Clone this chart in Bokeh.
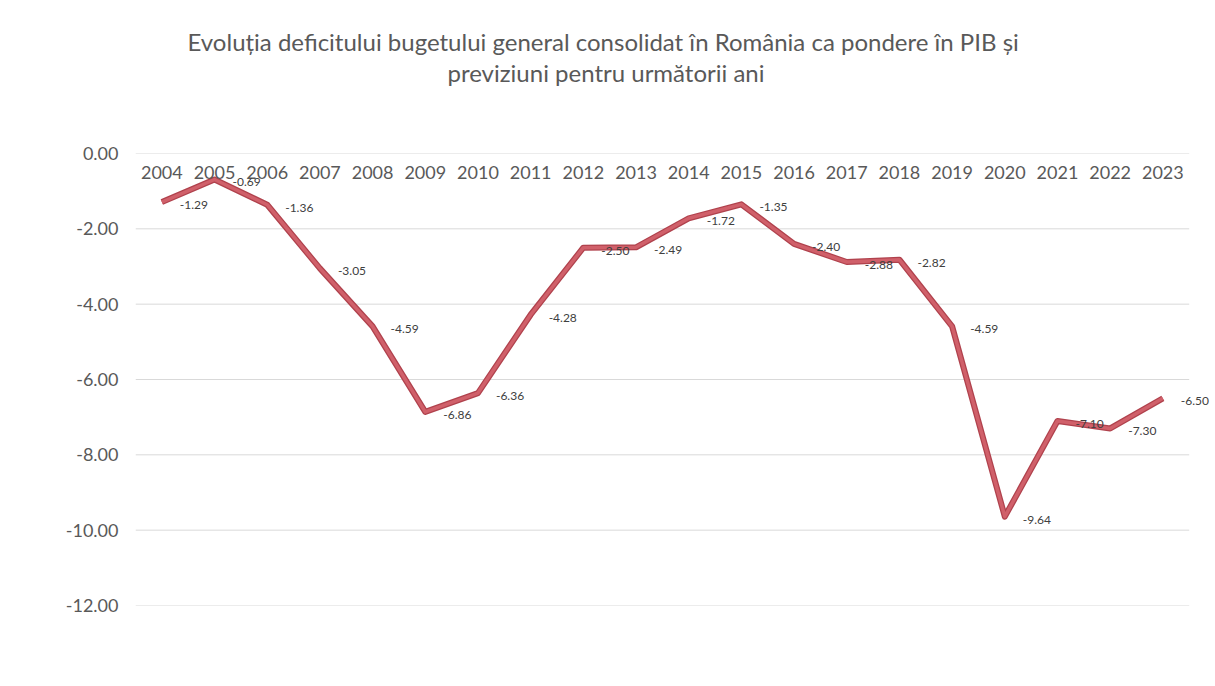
from bokeh.plotting import figure
from bokeh.models import (ColumnDataSource, Range1d, FixedTicker, NumeralTickFormatter,
                          PrintfTickFormatter, LabelSet, Title)
from bokeh.core.properties import value
from bokeh.embed import file_html
from bokeh.resources import INLINE

years = [2004, 2005, 2006, 2007, 2008, 2009, 2010, 2011, 2012, 2013,
         2014, 2015, 2016, 2017, 2018, 2019, 2020, 2021, 2022, 2023]
deficit = [-1.29, -0.69, -1.36, -3.05, -4.59, -6.86, -6.36, -4.28, -2.50, -2.49,
           -1.72, -1.35, -2.40, -2.88, -2.82, -4.59, -9.64, -7.10, -7.30, -6.50]
y_ticks = [0, -2, -4, -6, -8, -10, -12]
title_line1 = "Evoluția deficitului bugetului general consolidat în România ca pondere în PIB și"
title_line2 = "previziuni pentru următorii ani"

src = ColumnDataSource(dict(x=years, y=deficit, lbl=["%.2f" % v for v in deficit]))

FONT = "Lato"
GRAY = "#595959"

W, H = 1214, 684
p = figure(width=W, height=H,
           x_range=Range1d(years[0] - 0.5, years[-1] + 0.98),
           y_range=Range1d(min(y_ticks), max(y_ticks)),
           output_backend="svg", toolbar_location=None,
           min_border_left=135, min_border_right=0, min_border_top=153,
           min_border_bottom=H - 605)

# title (two lines) stacked above the frame, with a spacer closest to the frame
p.add_layout(Title(text=" ", text_font_size="1px", standoff=64), "above")
p.add_layout(Title(text=title_line2, align="left", offset=312, text_font=FONT,
                   text_font_size="24px", text_font_style="normal", text_color=GRAY,
                   standoff=0), "above")
p.add_layout(Title(text=title_line1, align="left", offset=52, text_font=FONT,
                   text_font_size="24px", text_font_style="normal", text_color=GRAY,
                   standoff=0), "above")

p.outline_line_color = None
p.xgrid.grid_line_color = None
p.ygrid.grid_line_color = None

# horizontal gridlines spanning the category area only
p.segment(x0=[years[0] - 0.5] * len(y_ticks), x1=[years[-1] + 0.5] * len(y_ticks),
          y0=y_ticks, y1=y_ticks, line_color="#D9D9D9", line_width=1)

p.yaxis.ticker = FixedTicker(ticks=y_ticks)
p.yaxis.formatter = NumeralTickFormatter(format="0.00")
p.yaxis.axis_line_color = None
p.yaxis.major_tick_line_color = None
p.yaxis.major_tick_out = 0
p.yaxis.minor_tick_line_color = None
p.yaxis.major_label_text_font = FONT
p.yaxis.major_label_text_font_size = "18px"
p.yaxis.major_label_text_color = GRAY
p.yaxis.major_label_standoff = 17

p.xaxis.ticker = FixedTicker(ticks=years)
p.xaxis.formatter = PrintfTickFormatter(format="%d")
p.xaxis.fixed_location = 0
p.xaxis.axis_line_color = None
p.xaxis.major_tick_line_color = None
p.xaxis.major_tick_out = 0
p.xaxis.minor_tick_line_color = None
p.xaxis.major_label_text_font = FONT
p.xaxis.major_label_text_font_size = "18px"
p.xaxis.major_label_text_color = GRAY
p.xaxis.major_label_standoff = 12

p.line("x", "y", source=src, line_color="#B0424D", line_width=6, line_join="round")
p.line("x", "y", source=src, line_color="#D0606A", line_width=3.5, line_join="round")

labels = LabelSet(x="x", y="y", text="lbl", source=src, x_offset=18, y_offset=-3,
                  text_align="left", text_baseline="middle", text_font=value(FONT),
                  text_font_size=value("12px"), text_color="#404040")
p.add_layout(labels)

open("out.html", "w").write(file_html(p, INLINE))
